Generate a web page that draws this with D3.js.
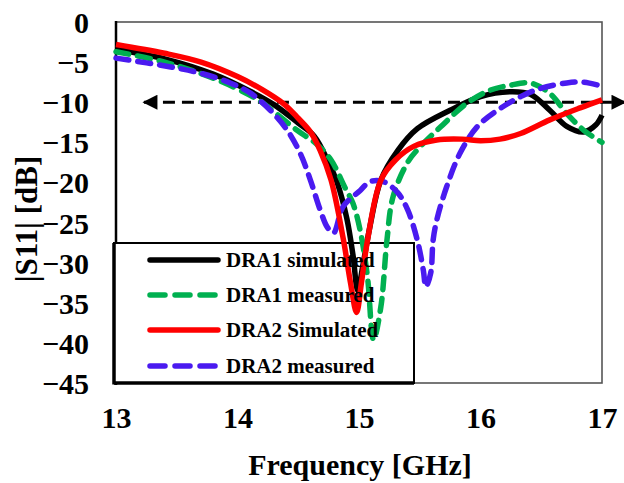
<!DOCTYPE html>
<html><head><meta charset="utf-8">
<script src="https://cdn.jsdelivr.net/npm/d3@7"></script>
<style>html,body{margin:0;padding:0;background:#fff;} svg{display:block;}</style>
</head><body>
<svg id="chart" width="624" height="483"></svg>
<script>
const xTicks = [13, 14, 15, 16, 17];
const yTicks = [0, -5, -10, -15, -20, -25, -30, -35, -40, -45];

const dra1SimF = [13.0, 13.4, 13.8, 14.1, 14.3, 14.5, 14.63, 14.75, 14.82, 14.9, 14.95, 14.99, 15.03, 15.09, 15.18, 15.32, 15.48, 15.75, 16.0, 16.24, 16.41, 16.57, 16.71, 16.85, 16.95, 17.0];
const dra1SimV = [-3.4, -4.6, -6.5, -8.6, -10.3, -12.6, -14.2, -17.5, -20, -24.5, -29, -33.5, -30.5, -25.5, -19.7, -16, -13.3, -11, -9.3, -8.7, -9.0, -11, -13.0, -13.7, -12.8, -11.6];

const dra1MeasF = [13.0, 13.4, 13.8, 14.17, 14.3, 14.49, 14.65, 14.77, 14.88, 14.95, 15.01, 15.07, 15.12, 15.18, 15.23, 15.28, 15.4, 15.5, 15.67, 15.89, 16.08, 16.24, 16.41, 16.57, 16.71, 16.85, 17.0];
const dra1MeasV = [-3.7, -5.0, -7.0, -9.7, -11.2, -13.5, -15.2, -17.2, -20.5, -22.6, -26, -31.8, -39.6, -35.5, -27.2, -21.8, -17.5, -15.6, -13.1, -10.1, -8.5, -7.9, -7.6, -8.9, -11.4, -13.5, -15];

const dra2SimF = [13.0, 13.4, 13.7, 14.0, 14.2, 14.38, 14.5, 14.6, 14.68, 14.77, 14.87, 14.93, 14.98, 15.02, 15.07, 15.18, 15.3, 15.45, 15.64, 15.85, 16.0, 16.16, 16.33, 16.57, 16.82, 17.0];
const dra2SimV = [-2.8, -3.9, -5.0, -6.8, -8.4, -10.2, -12, -13.7, -16, -19.7, -27, -32.5, -36.2, -32.5, -27.2, -19.7, -17.2, -15.5, -14.7, -14.6, -14.8, -14.6, -13.9, -12.2, -10.7, -9.7];

const dra2MeasF = [13.0, 13.45, 13.7, 13.94, 14.11, 14.27, 14.41, 14.52, 14.6, 14.68, 14.74, 14.79, 14.87, 15.01, 15.09, 15.2, 15.32, 15.4, 15.48, 15.53, 15.55, 15.59, 15.61, 15.64, 15.72, 15.83, 15.97, 16.14, 16.33, 16.49, 16.71, 16.85, 17.0];
const dra2MeasV = [-4.5, -5.6, -6.4, -7.6, -8.9, -11, -13.5, -16.5, -19.7, -23.4, -25.6, -26.3, -23, -21, -19.9, -19.9, -21.3, -23.4, -27.2, -31, -33, -31.3, -27.2, -24.7, -20.6, -16.4, -13.1, -11, -9.3, -8.3, -7.6, -7.5, -8];

const seriesNames = ["DRA1 simulated", "DRA1 measured", "DRA2 Simulated", "DRA2 measured"];
const seriesColors = ["#000000", "#00b050", "#ff0000", "#4a1af0"];
const seriesDash = [null, "13,9", null, "13,9"];
const markerLevel = -10;

const series = [
  {f: dra1SimF, v: dra1SimV},
  {f: dra1MeasF, v: dra1MeasV},
  {f: dra2SimF, v: dra2SimV},
  {f: dra2MeasF, v: dra2MeasV}
];
const drawOrder = [0, 1, 3, 2];

const svg = d3.select("#chart");
const W = 624, H = 483;
const L = 116, R = 602, T = 22, B = 383;
const x = d3.scaleLinear().domain([13, 17]).range([L, R]);
const y = d3.scaleLinear().domain([0, -45]).range([T, B]);
const font = "'Liberation Serif','Times New Roman',serif";

svg.append("rect").attr("width", W).attr("height", H).attr("fill", "#fff");

// frame
svg.append("rect").attr("x", L).attr("y", T).attr("width", R - L).attr("height", B - T)
  .attr("fill", "none").attr("stroke", "#555").attr("stroke-width", 1.6);
svg.append("line").attr("x1", L).attr("x2", L).attr("y1", T - 1).attr("y2", B + 2)
  .attr("stroke", "#000").attr("stroke-width", 2.5);

// y axis
const yAxis = d3.axisLeft(y).tickValues(yTicks).tickSize(0).tickPadding(0).tickFormat(d3.format("d"));
const gy = svg.append("g").attr("transform", `translate(${L - 27},0)`).call(yAxis);
gy.select(".domain").remove();
gy.selectAll("text").attr("font-family", font).attr("font-weight", "bold").attr("font-size", 30).attr("fill", "#000").attr("dy", "0.35em");

// x axis
const xAxis = d3.axisBottom(x).tickValues(xTicks).tickSize(0).tickPadding(0).tickFormat(d3.format("d"));
const gx = svg.append("g").attr("transform", `translate(0,${B + 24})`).call(xAxis);
gx.select(".domain").remove();
gx.selectAll("text").attr("font-family", font).attr("font-weight", "bold").attr("font-size", 30).attr("fill", "#000").attr("dy", "0.71em");

// axis titles
svg.append("text").attr("x", 360).attr("y", 475).attr("text-anchor", "middle")
  .attr("font-family", font).attr("font-weight", "bold").attr("font-size", 30).text("Frequency [GHz]");
svg.append("text").attr("transform", `translate(37,${219}) rotate(-90)`).attr("text-anchor", "middle")
  .attr("font-family", font).attr("font-weight", "bold").attr("font-size", 31).text("|S11| [dB]");

// legend box
const lg = {x0: 114, x1: 414, y0: 243, y1: 383};
svg.append("rect").attr("x", lg.x0).attr("y", lg.y0).attr("width", lg.x1 - lg.x0).attr("height", lg.y1 - lg.y0)
  .attr("fill", "#fff").attr("stroke", "#000").attr("stroke-width", 2);
svg.append("line").attr("x1", lg.x0).attr("x2", lg.x0).attr("y1", lg.y0).attr("y2", lg.y1 + 1.5).attr("stroke", "#000").attr("stroke-width", 3.5);
svg.append("line").attr("x1", lg.x0).attr("x2", lg.x1).attr("y1", lg.y1).attr("y2", lg.y1).attr("stroke", "#000").attr("stroke-width", 3.5);

// arrow marker line
const defs = svg.append("defs");
defs.append("marker").attr("id", "ah").attr("viewBox", "0 0 10 10").attr("refX", 9).attr("refY", 5)
  .attr("markerWidth", 5.5).attr("markerHeight", 5).attr("markerUnits", "strokeWidth").attr("orient", "auto-start-reverse")
  .append("path").attr("d", "M0,0L10,5L0,10Z").attr("fill", "#000");
svg.append("line").attr("x1", x(13.23)).attr("x2", 625).attr("y1", y(markerLevel)).attr("y2", y(markerLevel))
  .attr("stroke", "#000").attr("stroke-width", 3).attr("stroke-dasharray", "12,7")
  .attr("marker-start", "url(#ah)").attr("marker-end", "url(#ah)");

// curves
const line = d3.line().x(d => x(d[0])).y(d => y(d[1])).curve(d3.curveCatmullRom.alpha(0.5));
drawOrder.forEach(i => {
  const s = series[i];
  const pts = s.f.map((f, k) => [f, s.v[k]]);
  const p = svg.append("path").datum(pts).attr("d", line).attr("fill", "none")
    .attr("stroke", seriesColors[i]).attr("stroke-width", 5.5).attr("stroke-linejoin", "round");
  if (seriesDash[i]) p.attr("stroke-dasharray", seriesDash[i]).attr("stroke-linecap", "round");
});

// legend entries
const rowY = [260, 295, 330, 366];
seriesNames.forEach((name, i) => {
  const ln = svg.append("line").attr("x1", 150).attr("x2", 218).attr("y1", rowY[i]).attr("y2", rowY[i])
    .attr("stroke", seriesColors[i]).attr("stroke-width", 5.5).attr("stroke-linecap", "round");
  if (seriesDash[i]) ln.attr("stroke-dasharray", "15,10");
  svg.append("text").attr("x", 226).attr("y", rowY[i]).attr("dy", "0.35em")
    .attr("font-family", font).attr("font-weight", "bold").attr("font-size", 21).text(name);
});
</script>
</body></html>
